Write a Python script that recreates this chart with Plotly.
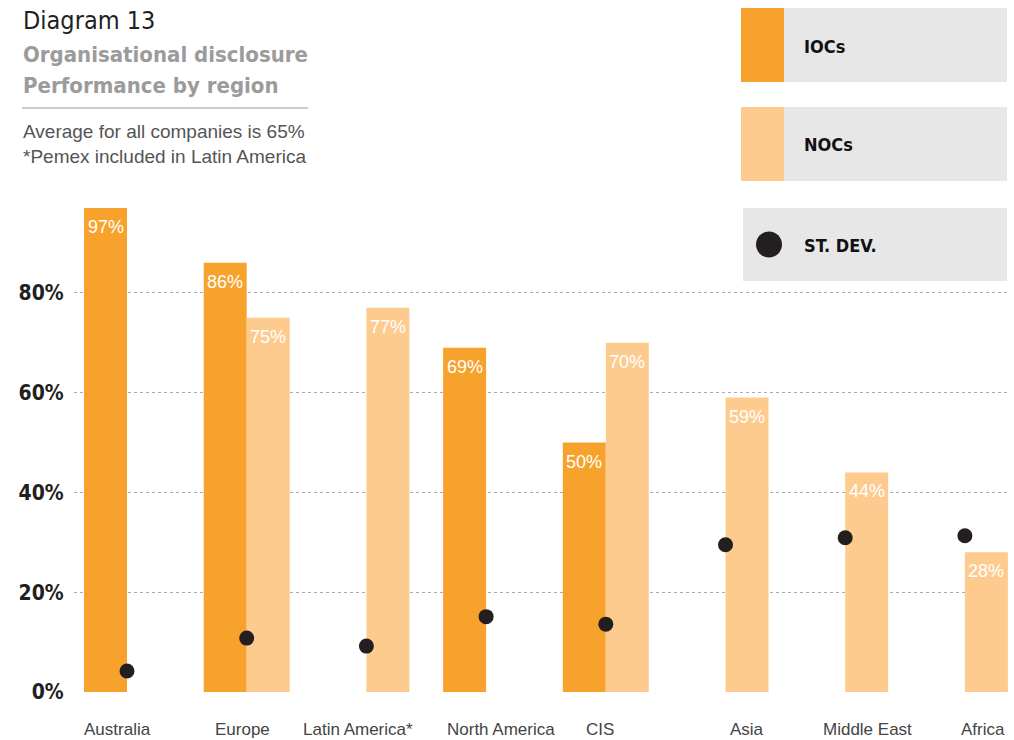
import plotly.graph_objects as go

# ---- data ----
categories = ["Australia", "Europe", "Latin America*", "North America", "CIS",
              "Asia", "Middle East", "Africa"]
iocs = [97, 86, None, 69, 50, None, None, None]
nocs = [None, 75, 77, None, 70, 59, 44, 28]
st_dev = [4.2, 10.8, 9.2, 15.1, 13.6, 29.5, 30.9, 31.3]
y_ticks = [0, 20, 40, 60, 80]
y_tick_labels = ["0%", "20%", "40%", "60%", "80%"]

# ---- styling / layout ----
W, H = 1014, 740
L, R, T, B = 74, 4, 193, 48
IOC_COLOR = "#F8A22E"
NOC_COLOR = "#FECB8F"
DOT_COLOR = "#231F20"
NARROW = "DejaVu Sans Condensed, Liberation Sans Narrow, Liberation Sans, sans-serif"
REG = "Liberation Sans, Arial, sans-serif"
label_shift = [-10, -4, -8, 15, -6, 21, 22, 18]
spacing = 119.7
bar_px = 43

pw, ph = W - L - R, H - T - B


def px(x):
    return (x - L) / pw


def py(y):
    return (H - B - y) / ph


fig = go.Figure()
fig.add_trace(go.Bar(x=categories, y=iocs, name="IOCs",
                     marker=dict(color=IOC_COLOR, line_width=0), hoverinfo="skip"))
fig.add_trace(go.Bar(x=categories, y=nocs, name="NOCs",
                     marker=dict(color=NOC_COLOR, line_width=0), hoverinfo="skip"))
fig.add_trace(go.Scatter(x=categories, y=st_dev, mode="markers", name="ST. DEV.",
                         marker=dict(color=DOT_COLOR, size=15), hoverinfo="skip"))

shapes = []
annotations = []

# value labels inside bar tops
for series, shift in ((iocs, -bar_px / 2), (nocs, bar_px / 2)):
    for c, v in zip(categories, series):
        if v is None:
            continue
        annotations.append(dict(text="%d%%" % v, x=c, y=v, xref="x", yref="y",
                                xanchor="center", yanchor="top", xshift=shift, yshift=-7,
                                showarrow=False,
                                font=dict(family=REG, size=18, color="white")))

# title block
annotations.append(dict(text="Diagram 13", x=px(21), y=py(20), xref="paper", yref="paper",
                        xanchor="left", yanchor="middle", showarrow=False,
                        font=dict(family=NARROW, size=25, color="#231F20")))
annotations.append(dict(text="<b>Organisational disclosure</b>", x=px(21), y=py(54), xref="paper",
                        yref="paper", xanchor="left", yanchor="middle", showarrow=False,
                        font=dict(family=NARROW, size=22, color="#9B9B9B")))
annotations.append(dict(text="<b>Performance by region</b>", x=px(21), y=py(85), xref="paper",
                        yref="paper", xanchor="left", yanchor="middle", showarrow=False,
                        font=dict(family=NARROW, size=22, color="#9B9B9B")))
shapes.append(dict(type="line", xref="paper", yref="paper", x0=px(22), x1=px(308),
                   y0=py(108), y1=py(108), line=dict(color="#CCCCCC", width=2)))
annotations.append(dict(text="Average for all companies is 65%", x=px(21), y=py(131),
                        xref="paper", yref="paper", xanchor="left", yanchor="middle",
                        showarrow=False, font=dict(family=REG, size=19, color="#555555")))
annotations.append(dict(text="*Pemex included in Latin America", x=px(21), y=py(156),
                        xref="paper", yref="paper", xanchor="left", yanchor="middle",
                        showarrow=False, font=dict(family=REG, size=19, color="#555555")))

# legend boxes
legend_items = [("IOCs", 8, 82, "square", IOC_COLOR),
                ("NOCs", 107, 181, "square", NOC_COLOR),
                ("ST. DEV.", 208, 281, "dot", DOT_COLOR)]
for name, y0, y1, kind, col in legend_items:
    x0 = 741 if kind == "square" else 743
    shapes.append(dict(type="rect", xref="paper", yref="paper", x0=px(x0), x1=px(1007),
                       y0=py(y1), y1=py(y0), fillcolor="#E7E7E7", line_width=0, layer="below"))
    if kind == "square":
        shapes.append(dict(type="rect", xref="paper", yref="paper", x0=px(741), x1=px(784),
                           y0=py(y1), y1=py(y0), fillcolor=col, line_width=0))
    else:
        cy = (y0 + y1) / 2
        shapes.append(dict(type="circle", xref="paper", yref="paper", x0=px(756), x1=px(782),
                           y0=py(cy + 13), y1=py(cy - 13), fillcolor=col, line_width=0))
    annotations.append(dict(text="<b>%s</b>" % name, x=px(802), y=py((y0 + y1) / 2 + 1),
                            xref="paper", yref="paper", xanchor="left", yanchor="middle",
                            showarrow=False, font=dict(family=NARROW, size=18, color="#111111")))

# category labels
for i, c in enumerate(categories):
    annotations.append(dict(text=c, x=c, y=py(729), xref="x", yref="paper",
                            xanchor="center", yanchor="middle", xshift=label_shift[i],
                            showarrow=False, font=dict(family=REG, size=17, color="#444444")))

fig.update_layout(
    width=W, height=H, margin=dict(l=L, r=R, t=T, b=B, autoexpand=False),
    paper_bgcolor="white", plot_bgcolor="white",
    barmode="group", bargap=1 - 2 * bar_px / spacing, bargroupgap=0,
    showlegend=False, shapes=shapes, annotations=annotations,
    xaxis=dict(type="category", range=[(74 - 127) / spacing, (1010 - 127) / spacing],
               showticklabels=False, showgrid=False, zeroline=False, showline=False,
               ticks=""),
    yaxis=dict(range=[0, 100], tickvals=y_ticks, ticktext=["<b>%s</b>" % t for t in y_tick_labels],
               tickfont=dict(family=NARROW, size=21, color="#231F20"),
               showgrid=True, gridcolor="#ABABAB", griddash="dot", gridwidth=1,
               zeroline=False, showline=False, ticks="outside", ticklen=5,
               tickcolor="rgba(0,0,0,0)"),
)

fig.write_html("out.html", config={"displayModeBar": False},
               post_script="document.body.style.margin='0';document.body.style.padding='0';")
